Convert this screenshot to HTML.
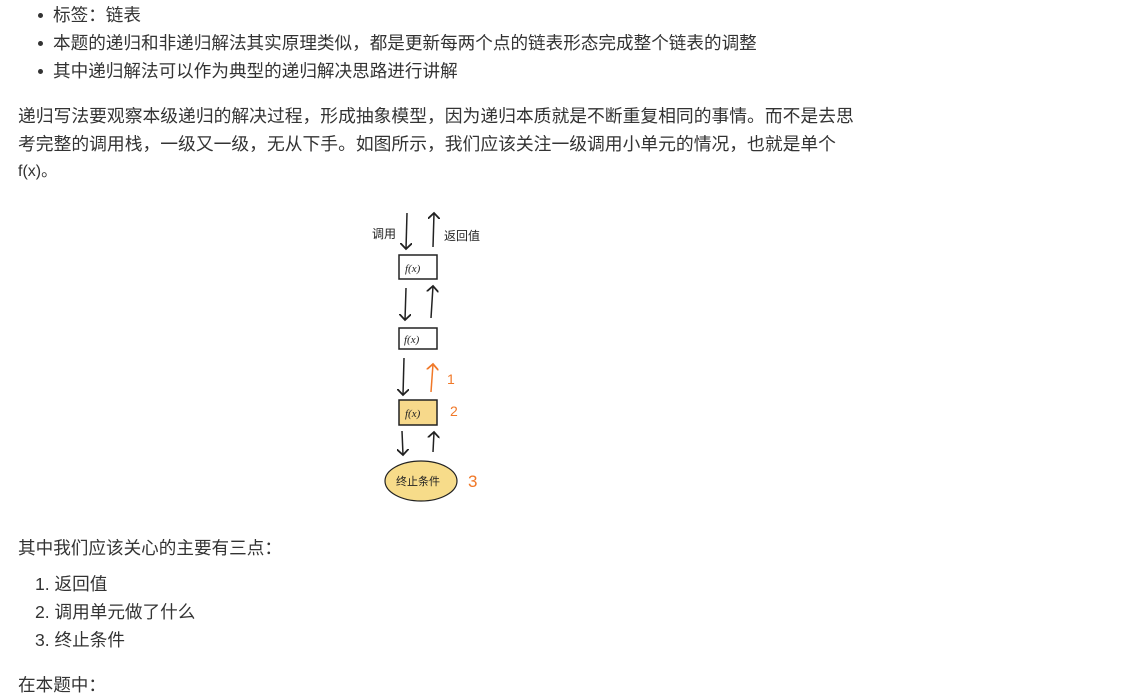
<!DOCTYPE html>
<html><head><meta charset="utf-8"><style>
body{margin:0;background:#fff;font-family:"Liberation Sans","Noto Sans CJK SC",sans-serif;font-size:17.6px;color:#333;}
.t{position:absolute;white-space:nowrap;line-height:20px;}
.dot{position:absolute;width:5px;height:5px;border-radius:50%;background:#333;}
</style></head><body>
<div class="dot" style="left:38px;top:13px"></div><div class="t" style="left:53px;top:5px">标签：链表</div>
<div class="dot" style="left:38px;top:41px"></div><div class="t" style="left:53px;top:33px">本题的递归和非递归解法其实原理类似，都是更新每两个点的链表形态完成整个链表的调整</div>
<div class="dot" style="left:38px;top:69px"></div><div class="t" style="left:53px;top:61px">其中递归解法可以作为典型的递归解决思路进行讲解</div>
<div class="t" style="left:18px;top:106px;font-size:17.8px">递归写法要观察本级递归的解决过程，形成抽象模型，因为递归本质就是不断重复相同的事情。而不是去思</div>
<div class="t" style="left:18px;top:134px;font-size:17.8px">考完整的调用栈，一级又一级，无从下手。如图所示，我们应该关注一级调用小单元的情况，也就是单个</div>
<div class="t" style="left:18px;top:162px;font-size:16px">f(x)。</div>
<svg style="position:absolute;left:0;top:0" width="1130" height="685">
<defs><marker id="a" markerWidth="8" markerHeight="8" refX="4" refY="4" orient="auto"><path d="M0,0 L4,4 L0,8" fill="none" stroke="#222" stroke-width="1.2"/></marker>
<marker id="o" markerWidth="8" markerHeight="8" refX="4" refY="4" orient="auto"><path d="M0,0 L4,4 L0,8" fill="none" stroke="#f07828" stroke-width="1.2"/></marker></defs>
<g stroke="#222" stroke-width="1.5" fill="none">
<line x1="407" y1="213" x2="406" y2="249" marker-end="url(#a)"/>
<line x1="433" y1="247" x2="434" y2="213" marker-end="url(#a)"/>
<rect x="399" y="255" width="38" height="24"/>
<line x1="406" y1="288" x2="405" y2="320" marker-end="url(#a)"/>
<line x1="431" y1="318" x2="433" y2="286" marker-end="url(#a)"/>
<rect x="399" y="328" width="38" height="21"/>
<line x1="404" y1="358" x2="403" y2="395" marker-end="url(#a)"/>
<line x1="402" y1="431" x2="403" y2="455" marker-end="url(#a)"/>
<line x1="433" y1="452" x2="434" y2="432" marker-end="url(#a)"/>
</g>
<line x1="431" y1="392" x2="433" y2="364" stroke="#f07828" stroke-width="1.5" marker-end="url(#o)"/>
<rect x="399" y="400" width="38" height="25" fill="#f7d98b" stroke="#222" stroke-width="1.5"/>
<ellipse cx="421" cy="481" rx="36" ry="20" fill="#f7dc8a" stroke="#222" stroke-width="1.2"/>
<g font-family="Liberation Serif,serif" font-style="italic" font-size="11" fill="#222">
<text x="405" y="272">f(x)</text><text x="404" y="343">f(x)</text><text x="405" y="417">f(x)</text></g>
<g font-family="Noto Sans CJK SC,sans-serif" font-size="12" fill="#222">
<text x="372" y="238">调用</text><text x="444" y="240">返回值</text><text x="396" y="485" font-size="11">终止条件</text></g>
<g font-family="Liberation Sans,sans-serif" font-size="14" fill="#f07828">
<text x="447" y="384">1</text><text x="450" y="416">2</text><text x="468" y="487" font-size="17">3</text></g>
</svg>
<div class="t" style="left:18px;top:538px">其中我们应该关心的主要有三点：</div>
<div class="t" style="left:35px;top:574px">1. 返回值</div>
<div class="t" style="left:35px;top:602px">2. 调用单元做了什么</div>
<div class="t" style="left:35px;top:630px">3. 终止条件</div>
<div class="t" style="left:18px;top:675px">在本题中：</div>
</body></html>
